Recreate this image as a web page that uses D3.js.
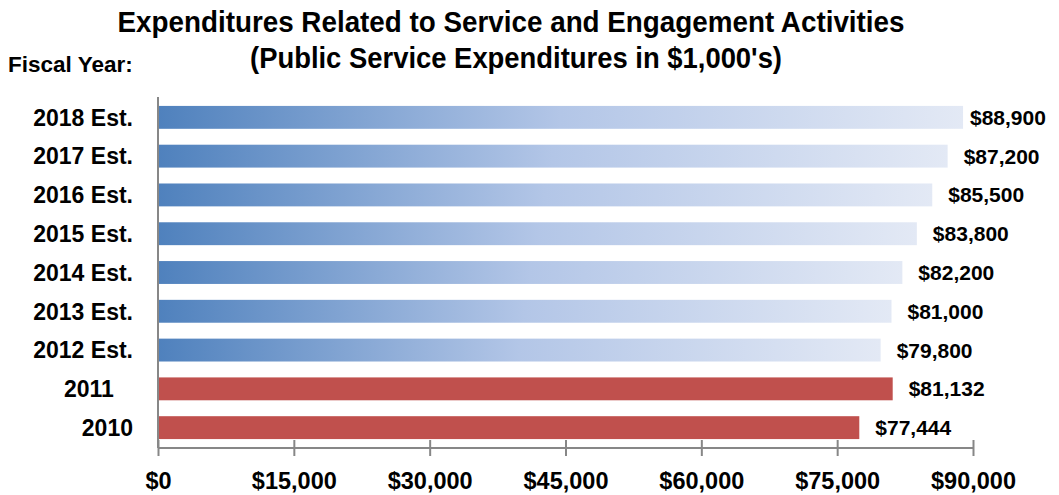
<!DOCTYPE html>
<html>
<head>
<meta charset="utf-8">
<script src="https://cdn.jsdelivr.net/npm/d3@7"></script>
<style>
  body { margin: 0; background: #fff; }
  text { font-family: "Liberation Sans", Arial, sans-serif; font-weight: bold; fill: #000; }
</style>
</head>
<body>
<svg id="chart" width="1059" height="495"></svg>
<script>
// fiscal years, top to bottom
const years = ['2018 Est.', '2017 Est.', '2016 Est.', '2015 Est.', '2014 Est.', '2013 Est.', '2012 Est.', '2011\u00a0\u00a0\u00a0', '2010'];
const amounts = [88900, 87200, 85500, 83800, 82200, 81000, 79800, 81132, 77444];
const estimated = [true, true, true, true, true, true, true, false, false];
const tickValues = [0, 15000, 30000, 45000, 60000, 75000, 90000];

const data = years.map((y, i) => ({ year: y, amount: amounts[i], est: estimated[i] }));

const svg = d3.select('#chart');
const W = 1059;

// scales
const x = d3.scaleLinear().domain([0, 90000]).range([158, 973]);
const y = d3.scaleBand()
    .domain(years)
    .range([97, 448])
    .paddingInner(0.41)
    .paddingOuter(0.23);

// gradient for the estimate bars
const grad = svg.append('defs').append('linearGradient')
    .attr('id', 'estGrad')
    .attr('x1', 0).attr('y1', 0).attr('x2', 1).attr('y2', 0);
grad.append('stop').attr('offset', '0%').attr('stop-color', '#4f81bd');
grad.append('stop').attr('offset', '50%').attr('stop-color', '#b3c6e7');
grad.append('stop').attr('offset', '100%').attr('stop-color', '#e3e9f5');

// titles
svg.append('text')
    .attr('x', 511).attr('y', 32)
    .attr('text-anchor', 'middle')
    .attr('font-size', 29)
    .attr('textLength', 787).attr('lengthAdjust', 'spacingAndGlyphs')
    .text('Expenditures Related to Service and Engagement Activities');
svg.append('text')
    .attr('x', 516).attr('y', 68)
    .attr('text-anchor', 'middle')
    .attr('font-size', 29)
    .attr('textLength', 532).attr('lengthAdjust', 'spacingAndGlyphs')
    .text("(Public Service Expenditures in $1,000's)");
svg.append('text')
    .attr('x', 8).attr('y', 72)
    .attr('font-size', 22.5)
    .text('Fiscal Year:');

// bars
svg.selectAll('.bar')
    .data(data)
    .enter()
    .append('rect')
    .attr('class', 'bar')
    .attr('x', x(0))
    .attr('y', d => y(d.year))
    .attr('width', d => x(d.amount) - x(0))
    .attr('height', y.bandwidth())
    .attr('fill', d => d.est ? 'url(#estGrad)' : '#c0504d');

// value labels
svg.selectAll('.val')
    .data(data)
    .enter()
    .append('text')
    .attr('class', 'val')
    .attr('x', d => Math.min(x(d.amount) + 16, W - 89))
    .attr('y', d => y(d.year) + y.bandwidth() / 2)
    .attr('dy', '0.36em')
    .attr('font-size', 21)
    .text(d => '$' + d3.format(',')(d.amount));

// category labels
svg.selectAll('.cat')
    .data(data)
    .enter()
    .append('text')
    .attr('class', 'cat')
    .attr('x', 133)
    .attr('y', d => y(d.year) + y.bandwidth() / 2)
    .attr('dy', '0.36em')
    .attr('text-anchor', 'end')
    .attr('font-size', 23)
    .text(d => d.year);

// vertical axis line
svg.append('line')
    .attr('x1', x(0)).attr('x2', x(0))
    .attr('y1', 97).attr('y2', 448)
    .attr('stroke', '#878787').attr('stroke-width', 2);

// x axis
const xAxis = d3.axisBottom(x)
    .tickValues(tickValues)
    .tickSize(8)
    .tickPadding(16)
    .tickFormat(d => '$' + d3.format(',')(d));

const gx = svg.append('g')
    .attr('transform', 'translate(0,448)')
    .call(xAxis);
gx.select('.domain').attr('stroke', '#878787').attr('stroke-width', 2).attr('d', `M${x(0)},0H${x(90000)}`);
gx.selectAll('.tick line').attr('stroke', '#878787').attr('stroke-width', 2).attr('y1', -8).attr('y2', 8);
gx.selectAll('.tick text')
    .attr('font-size', 23.5)
    .attr('font-family', '"Liberation Sans", Arial, sans-serif')
    .attr('font-weight', 'bold')
    .attr('fill', '#000');
</script>
</body>
</html>
